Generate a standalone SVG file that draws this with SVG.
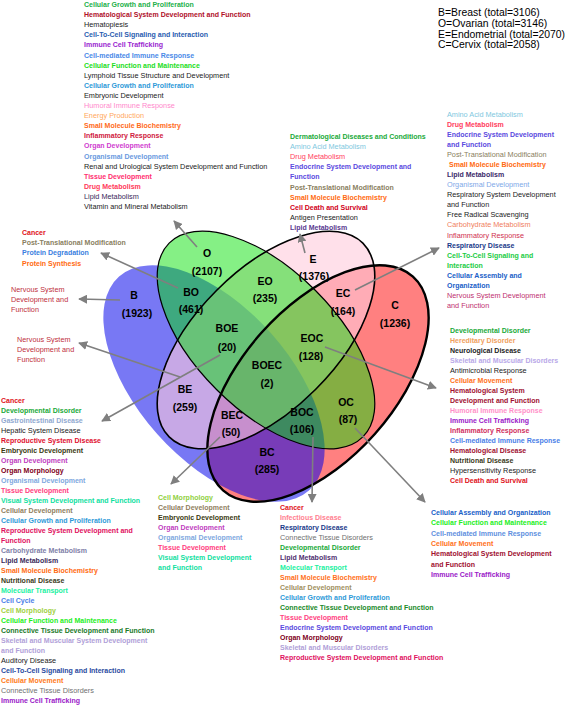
<svg xmlns="http://www.w3.org/2000/svg" width="567" height="705" viewBox="0 0 567 705">
<style>
text{font-family:"Liberation Sans",Arial,sans-serif;font-size:7.3px}
.b{font-weight:bold;font-size:7px}
.lg{font-size:10.4px}
.vl{font-weight:bold;font-size:10.5px;text-anchor:middle}
.conn line{stroke:#7f7f7f;stroke-width:1.6;marker-end:url(#ah)}
</style>
<defs>
<marker id="ah" viewBox="0 0 10 10" refX="9" refY="5" markerWidth="9" markerHeight="9" markerUnits="userSpaceOnUse" orient="auto"><path d="M0,0 L10,5 L0,10 z" fill="#7f7f7f"/></marker>
</defs>
<rect width="567" height="705" fill="#fff"/>

<g id="venn">
<ellipse id="C-fill" rx="143" ry="76" transform="translate(318,383.5) rotate(-48.4)" fill="#ff8080"/>
<ellipse id="B-fill" rx="143" ry="76" transform="translate(214,383.5) rotate(48.4)" fill="rgb(0,0,234)" fill-opacity="0.53"/>
<ellipse id="E-fill" rx="137" ry="70" transform="translate(266,340) rotate(-45)" fill="rgb(255,202,219)" fill-opacity="0.59"/>
<ellipse id="O-fill" rx="137" ry="70" transform="translate(266,340) rotate(45)" fill="rgb(0,224,0)" fill-opacity="0.48"/>
<ellipse rx="137" ry="70" transform="translate(266,340) rotate(45)" fill="none" stroke="#000" stroke-width="1.2"/>
<ellipse rx="137" ry="70" transform="translate(266,340) rotate(-45)" fill="none" stroke="#000" stroke-width="1.6"/>
<ellipse rx="143" ry="76" transform="translate(318,383.5) rotate(-48.4)" fill="none" stroke="#000" stroke-width="2.4"/>
</g>

<g id="legend" fill="#000">
<text class="lg" x="438" y="16">B=Breast (total=3106)</text>
<text class="lg" x="438" y="27">O=Ovarian (total=3146)</text>
<text class="lg" x="438" y="37.5">E=Endometrial (total=2070)</text>
<text class="lg" x="438" y="48">C=Cervix (total=2058)</text>
</g>

<g id="region-labels" fill="#000">
<g id="r-B"><text class="vl" x="134" y="299">B</text><text class="vl" x="137" y="317">(1923)</text></g>
<g id="r-O"><text class="vl" x="207" y="257">O</text><text class="vl" x="207" y="275">(2107)</text></g>
<g id="r-E"><text class="vl" x="313" y="263">E</text><text class="vl" x="314" y="280">(1376)</text></g>
<g id="r-C"><text class="vl" x="395" y="309">C</text><text class="vl" x="395" y="327">(1236)</text></g>
<g id="r-BO"><text class="vl" x="191" y="296">BO</text><text class="vl" x="191" y="313">(461)</text></g>
<g id="r-EO"><text class="vl" x="265" y="285">EO</text><text class="vl" x="265" y="302">(235)</text></g>
<g id="r-EC"><text class="vl" x="343" y="297">EC</text><text class="vl" x="343" y="315">(164)</text></g>
<g id="r-BOE"><text class="vl" x="227" y="332">BOE</text><text class="vl" x="227" y="351">(20)</text></g>
<g id="r-EOC"><text class="vl" x="312" y="342">EOC</text><text class="vl" x="311" y="360">(128)</text></g>
<g id="r-BOEC"><text class="vl" x="267" y="369">BOEC</text><text class="vl" x="267" y="387">(2)</text></g>
<g id="r-BE"><text class="vl" x="185" y="393">BE</text><text class="vl" x="185" y="411">(259)</text></g>
<g id="r-BEC"><text class="vl" x="232" y="419">BEC</text><text class="vl" x="231" y="436">(50)</text></g>
<g id="r-BOC"><text class="vl" x="302" y="416">BOC</text><text class="vl" x="302" y="433">(106)</text></g>
<g id="r-OC"><text class="vl" x="346" y="406">OC</text><text class="vl" x="348" y="423">(87)</text></g>
<g id="r-BC"><text class="vl" x="267" y="456">BC</text><text class="vl" x="267" y="473">(285)</text></g>
</g>

<g id="connectors" class="conn">
<line x1="197" y1="247" x2="174" y2="221"/>
<line x1="178" y1="288" x2="101" y2="253"/>
<line x1="120" y1="300" x2="79" y2="299"/>
<line x1="180" y1="377" x2="79" y2="343"/>
<line x1="220" y1="355" x2="102" y2="421"/>
<line x1="220" y1="437" x2="171" y2="484"/>
<line x1="313" y1="437" x2="312" y2="502"/>
<line x1="355" y1="428" x2="425" y2="502"/>
<line x1="325" y1="347" x2="436" y2="388"/>
<line x1="355" y1="290" x2="439" y2="248"/>
<line x1="305" y1="253" x2="300" y2="234"/>
</g>

<g id="list-O" fill="#1a1a1a">
<text x="84" y="7" class="b" fill="#22b04a">Cellular Growth and Proliferation</text>
<text x="84" y="17.1" class="b" fill="#b0102a">Hematological System Development and Function</text>
<text x="84" y="27.2">Hematopiesis</text>
<text x="84" y="37.3" class="b" fill="#2a5db0">Cell-To-Cell Signaling and Interaction</text>
<text x="84" y="47.4" class="b" fill="#9a1fd0">Immune Cell Trafficking</text>
<text x="84" y="57.5" class="b" fill="#4a8ae8">Cell-mediated Immune Response</text>
<text x="84" y="67.6" class="b" fill="#22dd22">Cellular Function and Maintenance</text>
<text x="84" y="77.7">Lymphoid Tissue Structure and Development</text>
<text x="84" y="87.8" class="b" fill="#2e9ad8">Cellular Growth and Proliferation</text>
<text x="84" y="97.9">Embryonic Development</text>
<text x="84" y="108" fill="#ff88cc">Humoral Immune Response</text>
<text x="84" y="118.1" fill="#ffa860">Energy Production</text>
<text x="84" y="128.2" class="b" fill="#ff6a1a">Small Molecule Biochemistry</text>
<text x="84" y="138.3" class="b" fill="#d02040">Inflammatory Response</text>
<text x="84" y="148.4" class="b" fill="#d040d0">Organ Development</text>
<text x="84" y="158.5" class="b" fill="#6a9ae0">Organismal Development</text>
<text x="84" y="168.6">Renal and Urological System Development and Function</text>
<text x="84" y="178.7" class="b" fill="#ff3070">Tissue Development</text>
<text x="84" y="188.8" class="b" fill="#ff3a5a">Drug Metabolism</text>
<text x="84" y="198.9" fill="#3a2a5a">Lipid Metabolism</text>
<text x="84" y="209">Vitamin and Mineral Metabolism</text>
</g>

<g id="list-E" fill="#1a1a1a">
<text x="290" y="139" class="b" fill="#1aaa3a">Dermatological Diseases and Conditions</text>
<text x="290" y="149.1" fill="#80c8e0">Amino Acid Metabolism</text>
<text x="290" y="159.2" fill="#ff4060">Drug Metabolism</text>
<text x="290" y="169.3" class="b" fill="#5a4ae0">Endocrine System Development and</text>
<text x="290" y="179.4" class="b" fill="#5a4ae0">Function</text>
<text x="290" y="189.5" class="b" fill="#8a8060">Post-Translational Modification</text>
<text x="290" y="199.6" class="b" fill="#ff6a10">Small Molecule Biochemistry</text>
<text x="290" y="209.7" class="b" fill="#d00018">Cell Death and Survival</text>
<text x="290" y="219.8">Antigen Presentation</text>
<text x="290" y="229.9" class="b" fill="#5a3a90">Lipid Metabolism</text>
</g>

<g id="list-EC" fill="#1a1a1a">
<text x="447" y="117" fill="#80c8e0">Amino Acid Metabolism</text>
<text x="447" y="127" class="b" fill="#ff4060">Drug Metabolism</text>
<text x="447" y="137" class="b" fill="#5a4ae0">Endocrine System Development</text>
<text x="447" y="147" class="b" fill="#5a4ae0">and Function</text>
<text x="447" y="157" fill="#8a8060">Post-Translational Modification</text>
<text x="449" y="167.1" class="b" fill="#ff6a10">Small Molecule Biochemistry</text>
<text x="447" y="177.2" class="b" fill="#3a2a6a">Lipid Metabolism</text>
<text x="447" y="187.2" fill="#80a8e8">Organismal Development</text>
<text x="447" y="197.3">Respiratory System Development</text>
<text x="447" y="207.3">and Function</text>
<text x="447" y="217.4">Free Radical Scavenging</text>
<text x="447" y="227.4" fill="#f08060">Carbohydrate Metabolism</text>
<text x="447" y="237.5" fill="#d03050">Inflammatory Response</text>
<text x="447" y="247.5" class="b" fill="#1a3a8a">Respiratory Disease</text>
<text x="447" y="257.6" class="b" fill="#22cc44">Cell-To-Cell Signaling and</text>
<text x="447" y="267.6" class="b" fill="#22cc44">Interaction</text>
<text x="447" y="277.7" class="b" fill="#2060c8">Cellular Assembly and</text>
<text x="447" y="287.7" class="b" fill="#2060c8">Organization</text>
<text x="447" y="297.8" fill="#c03070">Nervous System Development</text>
<text x="447" y="307.8" fill="#c03070">and Function</text>
</g>

<g id="list-BO">
<text x="22" y="235" class="b" fill="#e01020">Cancer</text>
<text x="22" y="245" class="b" fill="#8a8060">Post-Translational Modification</text>
<text x="22" y="255.2" class="b" fill="#3a80e0">Protein Degradation</text>
<text x="22" y="265.5" class="b" fill="#ff6a10">Protein Synthesis</text>
</g>

<g id="list-B" fill="#c03040">
<text x="11" y="292">Nervous System</text>
<text x="11" y="302">Development and</text>
<text x="11" y="312">Function</text>
</g>

<g id="list-BE" fill="#c03040">
<text x="17" y="342">Nervous System</text>
<text x="17" y="352">Development and</text>
<text x="17" y="362">Function</text>
</g>

<g id="list-BOE" fill="#1a1a1a">
<text x="1" y="403" class="b" fill="#e01020">Cancer</text>
<text x="1" y="413" class="b" fill="#1aaa3a">Developmental Disorder</text>
<text x="1" y="423" class="b" fill="#90a8d0">Gastrointestinal Disease</text>
<text x="1" y="433">Hepatic System Disease</text>
<text x="1" y="443" class="b" fill="#e01030">Reproductive System Disease</text>
<text x="1" y="453" class="b" fill="#3a3a10">Embryonic Development</text>
<text x="1" y="463" class="b" fill="#c040c0">Organ Development</text>
<text x="1" y="473" class="b" fill="#800020">Organ Morphology</text>
<text x="1" y="483" class="b" fill="#80a8e0">Organismal Development</text>
<text x="1" y="493" class="b" fill="#ff4080">Tissue Development</text>
<text x="1" y="503" class="b" fill="#10e0a0">Visual System Development and Function</text>
<text x="1" y="513" class="b" fill="#908060">Cellular Development</text>
<text x="1" y="523" class="b" fill="#2e9ad8">Cellular Growth and Proliferation</text>
<text x="1" y="533" class="b" fill="#e01060">Reproductive System Development and</text>
<text x="1" y="543" class="b" fill="#e01060">Function</text>
<text x="1" y="553" class="b" fill="#8080a8">Carbohydrate Metabolism</text>
<text x="1" y="563" class="b" fill="#3a2a5a">Lipid Metabolism</text>
<text x="1" y="573" class="b" fill="#ff6a10">Small Molecule Biochemistry</text>
<text x="1" y="583" class="b" fill="#3a3a20">Nutritional Disease</text>
<text x="1" y="593" class="b" fill="#20f0a0">Molecular Transport</text>
<text x="1" y="603" class="b" fill="#4a80e8">Cell Cycle</text>
<text x="1" y="613" class="b" fill="#a0d040">Cell Morphology</text>
<text x="1" y="623" class="b" fill="#22ee22">Cellular Function and Maintenance</text>
<text x="1" y="633" class="b" fill="#1a7a2a">Connective Tissue Development and Function</text>
<text x="1" y="643" class="b" fill="#b0a0d8">Skeletal and Muscular System Development</text>
<text x="1" y="653" class="b" fill="#b0a0d8">and Function</text>
<text x="1" y="663">Auditory Disease</text>
<text x="1" y="673" class="b" fill="#2a4aa0">Cell-To-Cell Signaling and Interaction</text>
<text x="1" y="683" class="b" fill="#ff7a20">Cellular Movement</text>
<text x="1" y="693" fill="#707070">Connective Tissue Disorders</text>
<text x="1" y="703" class="b" fill="#9a20c8">Immune Cell Trafficking</text>
</g>

<g id="list-EOC" fill="#1a1a1a">
<text x="450" y="333" class="b" fill="#1aaa3a">Developmental Disorder</text>
<text x="450" y="343" class="b" fill="#f0a060">Hereditary Disorder</text>
<text x="450" y="353" class="b" fill="#222">Neurological Disease</text>
<text x="450" y="363" class="b" fill="#b8a8e8">Skeletal and Muscular Disorders</text>
<text x="450" y="373">Antimicrobial Response</text>
<text x="450" y="383" class="b" fill="#ff7020">Cellular Movement</text>
<text x="450" y="393" class="b" fill="#a01030">Hematological System</text>
<text x="450" y="403" class="b" fill="#a01030">Development and Function</text>
<text x="450" y="413" class="b" fill="#ff90c8">Humoral Immune Response</text>
<text x="450" y="423" class="b" fill="#9a20c8">Immune Cell Trafficking</text>
<text x="450" y="433" class="b" fill="#d03060">Inflammatory Response</text>
<text x="450" y="443" class="b" fill="#4a80e8">Cell-mediated Immune Response</text>
<text x="450" y="453" class="b" fill="#a01030">Hematological Disease</text>
<text x="450" y="463" class="b" fill="#3a3a20">Nutritional Disease</text>
<text x="450" y="473">Hypersensitivity Response</text>
<text x="450" y="483" class="b" fill="#e01020">Cell Death and Survival</text>
</g>

<g id="list-BEC">
<text x="158" y="500" class="b" fill="#90d040">Cell Morphology</text>
<text x="158" y="510" class="b" fill="#908060">Cellular Development</text>
<text x="158" y="520" class="b" fill="#3a3a10">Embryonic Development</text>
<text x="158" y="530" class="b" fill="#c040c0">Organ Development</text>
<text x="158" y="540" class="b" fill="#80a8e0">Organismal Development</text>
<text x="158" y="550" class="b" fill="#ff4080">Tissue Development</text>
<text x="158" y="560" class="b" fill="#10e0a0">Visual System Development</text>
<text x="158" y="570" class="b" fill="#10e0a0">and Function</text>
</g>

<g id="list-BOC">
<text x="280" y="510" class="b" fill="#e01020">Cancer</text>
<text x="280" y="520" class="b" fill="#ff8090">Infectious Disease</text>
<text x="280" y="530" class="b" fill="#1a3a8a">Respiratory Disease</text>
<text x="280" y="540" fill="#707070">Connective Tissue Disorders</text>
<text x="280" y="550" class="b" fill="#1aaa3a">Developmental Disorder</text>
<text x="280" y="560" class="b" fill="#503070">Lipid Metabolism</text>
<text x="280" y="570" class="b" fill="#20f0a0">Molecular Transport</text>
<text x="280" y="580" class="b" fill="#ff7020">Small Molecule Biochemistry</text>
<text x="280" y="590" class="b" fill="#a09060">Cellular Development</text>
<text x="280" y="600" class="b" fill="#2e9ad8">Cellular Growth and Proliferation</text>
<text x="280" y="610" class="b" fill="#1a8a2a">Connective Tissue Development and Function</text>
<text x="280" y="620" class="b" fill="#ff4080">Tissue Development</text>
<text x="280" y="630" class="b" fill="#5a4ae0">Endocrine System Development and Function</text>
<text x="280" y="640" class="b" fill="#800020">Organ Morphology</text>
<text x="280" y="650" class="b" fill="#b0a0d8">Skeletal and Muscular Disorders</text>
<text x="280" y="660" class="b" fill="#e01060">Reproductive System Development and Function</text>
</g>

<g id="list-OC">
<text x="431" y="515" class="b" fill="#2060c8">Cellular Assembly and Organization</text>
<text x="431" y="525.3" class="b" fill="#22ee22">Cellular Function and Maintenance</text>
<text x="431" y="535.6" class="b" fill="#6090e0">Cell-mediated Immune Response</text>
<text x="431" y="545.9" class="b" fill="#ff7020">Cellular Movement</text>
<text x="431" y="556.2" class="b" fill="#a01030">Hematological System Development</text>
<text x="431" y="566.5" class="b" fill="#a01030">and Function</text>
<text x="431" y="576.8" class="b" fill="#9a20c8">Immune Cell Trafficking</text>
</g>
</svg>
